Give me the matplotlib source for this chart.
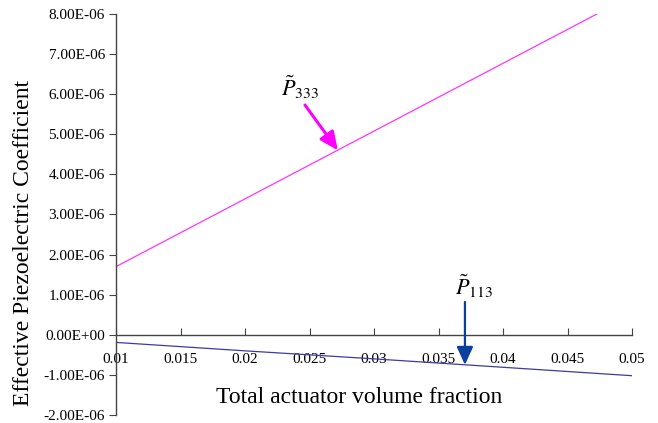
import numpy as np
import matplotlib
matplotlib.use("Agg")
import matplotlib.pyplot as plt

# data
vol_frac = [0.01, 0.02, 0.03, 0.04, 0.05]
p333 = [1.70e-6, 3.39e-6, 5.08e-6, 6.77e-6, 8.46e-6]
p113 = [-0.19e-6, -0.40e-6, -0.60e-6, -0.81e-6, -1.02e-6]
x_ticks = [0.01, 0.015, 0.02, 0.025, 0.03, 0.035, 0.04, 0.045, 0.05]
y_ticks = [-2e-6, -1e-6, 0, 1e-6, 2e-6, 3e-6, 4e-6, 5e-6, 6e-6, 7e-6, 8e-6]

plt.rcParams['font.family'] = ['Liberation Serif', 'DejaVu Serif']
plt.rcParams['mathtext.fontset'] = 'stix'

fig = plt.figure(figsize=(6.58, 4.23), dpi=100)
ax = fig.add_axes([116/658, 1 - 415/423, (632 - 116)/658, (415 - 14)/423])

ax.plot(vol_frac, p333, color='#ff33ff', lw=0.9)
ax.plot(vol_frac, p113, color='#3c3ca0', lw=0.9)

ax.set_xlim(0.01, 0.05)
ax.set_ylim(-2e-6, 8e-6)
ax.set_xticks(x_ticks)
ax.set_xticklabels(["%g" % v for v in x_ticks])
ax.set_yticks(y_ticks)
ax.set_yticklabels(["%.2E" % v for v in y_ticks])

ax.spines['top'].set_visible(False)
ax.spines['right'].set_visible(False)
ax.spines['bottom'].set_position(('data', 0))
for s in ['left', 'bottom']:
    ax.spines[s].set_color('#444444')
    ax.spines[s].set_linewidth(1.0)
ax.tick_params(axis='x', direction='in', length=5, pad=13, labelsize=11, color='#444444')
ax.tick_params(axis='y', direction='out', length=5, pad=3, labelsize=11, color='#444444')

# annotations
ax.text(0.02426, 6.18e-6, r'$\tilde{P}_{333}$', fontsize=16, ha='center', va='center')
ax.annotate('', xy=(0.0272, 4.60e-6), xytext=(0.02465, 5.73e-6),
            arrowprops=dict(arrowstyle='-|>,head_length=1.1,head_width=0.5',
                            mutation_scale=10, color='#ff00ff', lw=2.2,
                            shrinkA=0, shrinkB=0))
ax.text(0.0378, 1.20e-6, r'$\tilde{P}_{113}$', fontsize=16, ha='center', va='center')
ax.annotate('', xy=(0.03705, -0.75e-6), xytext=(0.03705, 0.82e-6),
            arrowprops=dict(arrowstyle='-|>,head_length=1.1,head_width=0.5',
                            mutation_scale=10, color='#0b3f9e', lw=1.6,
                            shrinkA=0, shrinkB=0))

fig.text(359/658, 1 - 397/423, 'Total actuator volume fraction', fontsize=17,
         ha='center', va='center')
fig.text(24/658, 1 - 243/423, 'Effective Piezoelectric Coefficient', fontsize=17,
         ha='center', va='center', rotation=90)

fig.savefig('out.png', dpi=100)
